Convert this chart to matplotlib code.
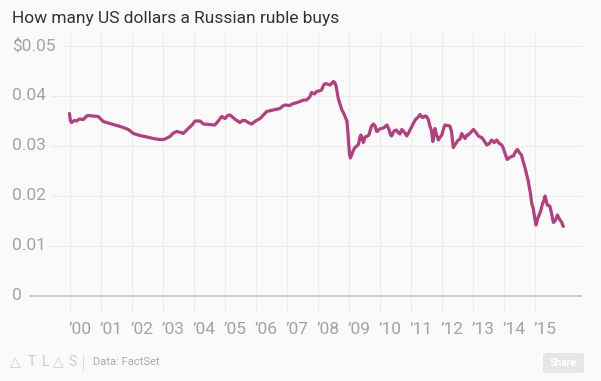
import matplotlib
matplotlib.use("Agg")
import matplotlib.pyplot as plt
import matplotlib.transforms as mtransforms
from matplotlib.patches import FancyBboxPatch
from matplotlib.lines import Line2D

plt.rcParams['font.family'] = ['Roboto', 'DejaVu Sans']

#### data: USD per 1 RUB (decimal years) ####
years = [
    2000.00, 2000.03, 2000.07, 2000.15, 2000.23, 2000.32, 2000.45, 2000.55, 2000.61, 2000.75,
    2000.93, 2001.02, 2001.09, 2001.25, 2001.41, 2001.58, 2001.74, 2001.90, 2002.06, 2002.27,
    2002.50, 2002.70, 2002.90, 2003.03, 2003.15, 2003.24, 2003.35, 2003.46, 2003.60, 2003.67,
    2003.83, 2003.95, 2004.05, 2004.21, 2004.32, 2004.50, 2004.69, 2004.80, 2004.91, 2005.02,
    2005.10, 2005.18, 2005.35, 2005.50, 2005.58, 2005.66, 2005.80, 2005.88, 2006.00, 2006.15,
    2006.30, 2006.36, 2006.57, 2006.70, 2006.79, 2006.88, 2006.95, 2007.10, 2007.22, 2007.30,
    2007.44, 2007.55, 2007.65, 2007.75, 2007.81, 2007.90, 2007.97, 2008.05, 2008.13, 2008.20,
    2008.26, 2008.35, 2008.40, 2008.46, 2008.51, 2008.56, 2008.60, 2008.64, 2008.67, 2008.72,
    2008.78, 2008.84, 2008.89, 2008.95, 2008.99, 2009.03, 2009.06, 2009.10, 2009.16, 2009.21,
    2009.27, 2009.32, 2009.37, 2009.40, 2009.45, 2009.48, 2009.53, 2009.59, 2009.66, 2009.73,
    2009.80, 2009.86, 2009.90, 2009.93, 2010.00, 2010.07, 2010.15, 2010.24, 2010.30, 2010.36,
    2010.39, 2010.47, 2010.55, 2010.60, 2010.66, 2010.72, 2010.77, 2010.83, 2010.88, 2010.95,
    2011.05, 2011.15, 2011.25, 2011.31, 2011.36, 2011.41, 2011.47, 2011.52, 2011.58, 2011.63,
    2011.68, 2011.72, 2011.76, 2011.79, 2011.85, 2011.90, 2011.96, 2012.01, 2012.07, 2012.11,
    2012.20, 2012.27, 2012.32, 2012.38, 2012.44, 2012.54, 2012.60, 2012.65, 2012.70, 2012.76,
    2012.82, 2012.86, 2012.94, 2013.03, 2013.10, 2013.19, 2013.25, 2013.30, 2013.38, 2013.46,
    2013.54, 2013.62, 2013.70, 2013.78, 2013.85, 2013.94, 2014.00, 2014.05, 2014.12, 2014.18,
    2014.25, 2014.32, 2014.40, 2014.45, 2014.52, 2014.58, 2014.62, 2014.70, 2014.75, 2014.80,
    2014.83, 2014.87, 2014.91, 2014.96, 2015.00, 2015.05, 2015.10, 2015.15, 2015.20, 2015.26,
    2015.30, 2015.34, 2015.38, 2015.41, 2015.46, 2015.50, 2015.55, 2015.61, 2015.66, 2015.70,
    2015.74, 2015.78, 2015.82, 2015.87, 2015.93,
]
usd_per_rub = [
    0.0365, 0.0350, 0.0347, 0.0351, 0.0350, 0.0354, 0.0353, 0.0360, 0.0361, 0.0360,
    0.0359, 0.0353, 0.0349, 0.0346, 0.0343, 0.0340, 0.0337, 0.0333, 0.0325, 0.0321,
    0.0318, 0.0315, 0.0313, 0.0313, 0.0316, 0.0319, 0.0326, 0.0329, 0.0327, 0.0325,
    0.0335, 0.0342, 0.0350, 0.0350, 0.0344, 0.0343, 0.0342, 0.0350, 0.0359, 0.0355,
    0.0361, 0.0362, 0.0353, 0.0347, 0.0351, 0.0351, 0.0346, 0.0344, 0.0350, 0.0355,
    0.0365, 0.0369, 0.0372, 0.0374, 0.0375, 0.0380, 0.0382, 0.0381, 0.0385, 0.0386,
    0.0389, 0.0392, 0.0392, 0.0398, 0.0407, 0.0404, 0.0409, 0.0410, 0.0412, 0.0422,
    0.0425, 0.0423, 0.0422, 0.0425, 0.0429, 0.0427, 0.0420, 0.0405, 0.0395, 0.0385,
    0.0373, 0.0366, 0.0359, 0.0350, 0.0320, 0.0285, 0.0276, 0.0282, 0.0292, 0.0297,
    0.0300, 0.0303, 0.0318, 0.0322, 0.0312, 0.0307, 0.0318, 0.0319, 0.0322, 0.0338,
    0.0344, 0.0340, 0.0330, 0.0329, 0.0334, 0.0335, 0.0337, 0.0342, 0.0334, 0.0322,
    0.0320, 0.0330, 0.0332, 0.0327, 0.0324, 0.0333, 0.0330, 0.0325, 0.0320, 0.0328,
    0.0340, 0.0352, 0.0358, 0.0363, 0.0358, 0.0357, 0.0360, 0.0359, 0.0352, 0.0339,
    0.0330, 0.0309, 0.0325, 0.0335, 0.0320, 0.0312, 0.0318, 0.0322, 0.0335, 0.0342,
    0.0341, 0.0340, 0.0330, 0.0297, 0.0303, 0.0312, 0.0314, 0.0325, 0.0320, 0.0315,
    0.0322, 0.0322, 0.0327, 0.0333, 0.0328, 0.0320, 0.0318, 0.0317, 0.0310, 0.0302,
    0.0305, 0.0312, 0.0307, 0.0312, 0.0306, 0.0302, 0.0295, 0.0285, 0.0273, 0.0276,
    0.0279, 0.0280, 0.0290, 0.0293, 0.0286, 0.0282, 0.0272, 0.0255, 0.0242, 0.0230,
    0.0218, 0.0205, 0.0185, 0.0175, 0.0158, 0.0142, 0.0155, 0.0162, 0.0170, 0.0185,
    0.0190, 0.0200, 0.0190, 0.0182, 0.0181, 0.0179, 0.0165, 0.0147, 0.0150, 0.0155,
    0.0162, 0.0157, 0.0152, 0.0148, 0.0139,
]

tick_years = list(range(2000, 2016))
tick_labels = ["\u2019%02d" % (y % 100) for y in tick_years]
y_values = [0.05, 0.04, 0.03, 0.02, 0.01, 0]
y_labels = ["$0.05", "0.04", "0.03", "0.02", "0.01", "0"]

#### figure / layout (pixels) ####
W, H = 601, 381
BG = "#fafafa"
fig = plt.figure(figsize=(W / 100, H / 100), dpi=100, facecolor=BG)
ax_l, ax_r, ax_t, ax_b = 29, 582, 33, 312
ax = fig.add_axes([ax_l / W, 1 - ax_b / H, (ax_r - ax_l) / W, (ax_b - ax_t) / H])
ax.set_facecolor(BG)

# 69.5px = 2000.0, 31px per year ; 296px = 0, 50px per 0.01
px_year = 31.0
ax.set_xlim(2000 - (69.5 - ax_l) / px_year, 2000 + (ax_r - 69.5) / px_year)
ax.set_ylim((296 - ax_b) / 5000, (296 - ax_t) / 5000)

for s in ax.spines.values():
    s.set_visible(False)
ax.set_xticks([])
ax.set_yticks([])

# vertical grid
for y in tick_years:
    ax.axvline(y, color="#ececec", lw=0.8, zorder=0)

# horizontal grid, each starting just after its label
grid_start_px = [62, 51, 51, 51, 49, 29]
for v, sx in zip(y_values, grid_start_px):
    if v == 0:
        ax.axhline(v, xmin=(sx - ax_l) / (ax_r - ax_l), color="#c9c9c9", lw=1.3, zorder=1)
    else:
        ax.axhline(v, xmin=(sx - ax_l) / (ax_r - ax_l), color="#ececec", lw=0.8, zorder=0)

# the line
ax.plot(years, usd_per_rub, color="#b43f80", lw=2.3, solid_joinstyle="round",
        solid_capstyle="round", zorder=3)

# y labels, left aligned at 12px
ytrans = mtransforms.blended_transform_factory(fig.transFigure, ax.transData)
for v, lab in zip(y_values, y_labels):
    ax.text(12 / W, v, lab, transform=ytrans, ha="left", va="center",
            fontsize=12.5, color="#a3a3a3")

# x labels, left aligned at each gridline
xtrans = mtransforms.blended_transform_factory(ax.transData, fig.transFigure)
for y, lab in zip(tick_years, tick_labels):
    ax.text(y - 1 / px_year, 1 - 329 / H, lab, transform=xtrans, ha="left", va="center",
            fontsize=12.5, color="#a3a3a3")

# title
fig.text(12 / W, 1 - 23 / H, "How many US dollars a Russian ruble buys",
         ha="left", va="baseline", fontsize=12.5, color="#333333")

# footer
logo = ["\u25b3", "T", "L", "\u25b3", "S"]
logo_x = [10, 28, 42, 53, 68]
for ch, lx in zip(logo, logo_x):
    fig.text(lx / W, 1 - 362 / H, ch, ha="left", va="center", fontsize=10,
             color="#cccccc", family=["DejaVu Sans"] if ch == "\u25b3" else ["Roboto", "DejaVu Sans"])
fig.add_artist(Line2D([83 / W, 83 / W], [1 - 355 / H, 1 - 370 / H],
                      transform=fig.transFigure, color="#dddddd", lw=0.8))
fig.text(93 / W, 1 - 362 / H, "Data: FactSet", ha="left", va="center",
         fontsize=8, color="#aaaaaa")

btn = FancyBboxPatch((543 / W, 1 - 373 / H), 41 / W, 20 / H,
                     boxstyle="round,pad=0,rounding_size=0.005",
                     transform=fig.transFigure, facecolor="#e6e6e6", edgecolor="none")
fig.add_artist(btn)
fig.text(563.5 / W, 1 - 363 / H, "Share", ha="center", va="center", fontsize=7.5,
         color="white", fontweight="bold")

fig.savefig("out.png", dpi=100, facecolor=BG)
